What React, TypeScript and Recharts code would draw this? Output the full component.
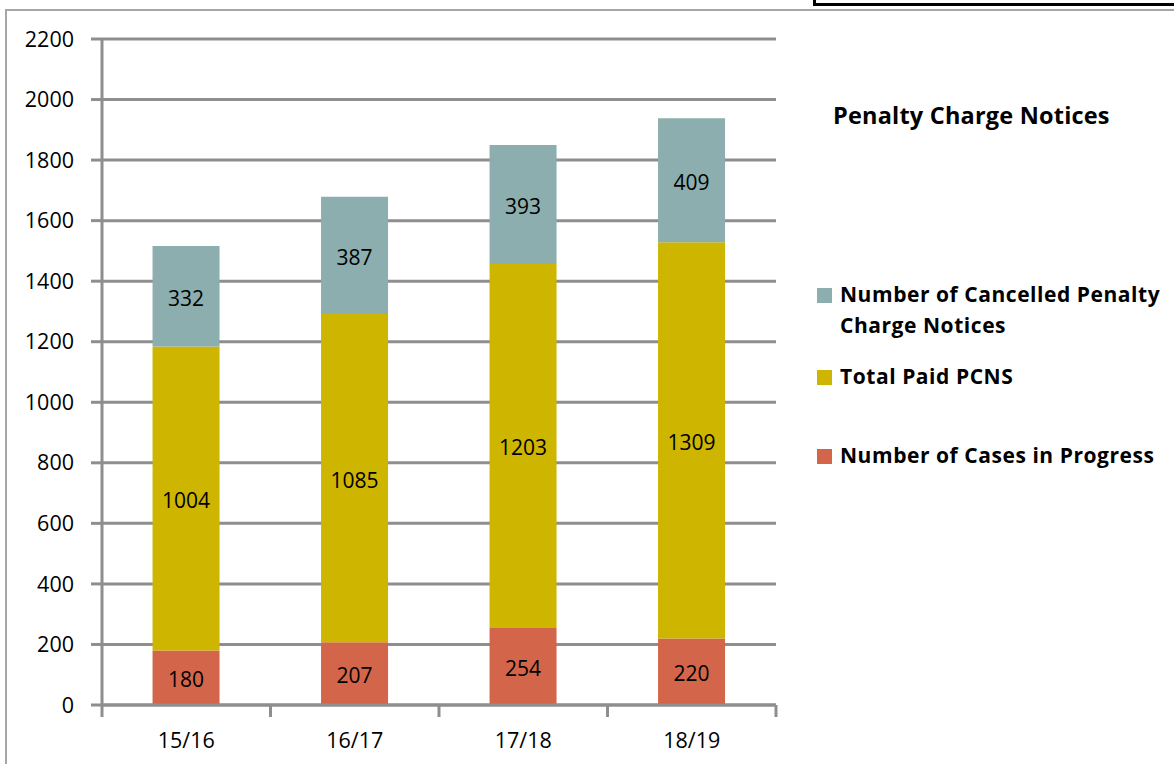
import React from 'react';
import { BarChart, Bar, XAxis, YAxis, CartesianGrid, LabelList } from 'recharts';

const categories = ['15/16', '16/17', '17/18', '18/19'];
const casesInProgress = [180, 207, 254, 220];
const totalPaid = [1004, 1085, 1203, 1309];
const cancelled = [332, 387, 393, 409];
const yTicks = [0, 200, 400, 600, 800, 1000, 1200, 1400, 1600, 1800, 2000, 2200];
const chartTitle = 'Penalty Charge Notices';

const series = [
  { key: 'cases', name: 'Number of Cases in Progress', color: '#D3654B' },
  { key: 'paid', name: 'Total Paid PCNS', color: '#CEB500' },
  { key: 'cancelled', name: 'Number of Cancelled Penalty Charge Notices', color: '#8CAEAE' },
];

const data = categories.map((c, i) => ({
  category: c,
  cases: casesInProgress[i],
  paid: totalPaid[i],
  cancelled: cancelled[i],
}));

const W = 1174;
const H = 764;
const PLOT_LEFT = 102;
const PLOT_RIGHT = 776;
const PLOT_TOP = 39;
const PLOT_BOTTOM = 705;
const BAND = (PLOT_RIGHT - PLOT_LEFT) / categories.length;
const GRID = '#8E8E8E';
const FONT = '"Open Sans", sans-serif';
const BOLD_FONT = '"Open Sans", sans-serif';

const XTick = (props: any) => {
  const { x, payload, index } = props;
  const half = BAND / 2;
  return (
    <g>
      <line x1={x - half} x2={x - half} y1={PLOT_BOTTOM} y2={PLOT_BOTTOM + 12} stroke={GRID} strokeWidth={3} />
      {index === categories.length - 1 && (
        <line x1={x + half} x2={x + half} y1={PLOT_BOTTOM} y2={PLOT_BOTTOM + 12} stroke={GRID} strokeWidth={3} />
      )}
      <text x={x} y={PLOT_BOTTOM + 43} textAnchor="middle" fontFamily={FONT} fontSize={21.5} fill="#000">
        {payload.value}
      </text>
    </g>
  );
};

const legendTops: Record<string, number> = { cancelled: 279, paid: 361, cases: 440 };

export default function App() {
  const legendItems = [...series].reverse();
  return (
    <div style={{ position: 'absolute', left: 0, top: 0, width: W, height: H, background: '#fff', overflow: 'hidden' }}>
      <div style={{ position: 'absolute', left: 5, top: 9, width: W, height: 2, background: '#A6A6A6' }} />
      <div style={{ position: 'absolute', left: 5, top: 9, width: 2, height: H, background: '#A6A6A6' }} />
      <div style={{ position: 'absolute', left: 813, top: -4, width: 400, height: 7, borderLeft: '3px solid #000', borderBottom: '3px solid #000' }} />
      <div style={{ position: 'absolute', left: 0, top: 0 }}>
        <BarChart
          width={W}
          height={H}
          data={data}
          margin={{ top: PLOT_TOP, right: W - PLOT_RIGHT, bottom: 0, left: 0 }}
          barCategoryGap="30%"
        >
          <CartesianGrid vertical={false} stroke={GRID} strokeWidth={3} />
          <XAxis
            dataKey="category"
            height={H - PLOT_BOTTOM}
            axisLine={{ stroke: GRID, strokeWidth: 3 }}
            tickLine={false}
            tick={<XTick />}
            interval={0}
          />
          <YAxis
            width={PLOT_LEFT}
            domain={[0, 2200]}
            ticks={yTicks}
            interval={0}
            axisLine={{ stroke: GRID, strokeWidth: 3 }}
            tickLine={{ stroke: GRID, strokeWidth: 3 }}
            tickSize={11}
            tickMargin={17}
            tick={{ fontFamily: FONT, fontSize: 21.5, fill: '#000' }}
          />
          {series.map((s) => (
            <Bar key={s.key} dataKey={s.key} name={s.name} stackId="a" fill={s.color} isAnimationActive={false}>
              <LabelList dataKey={s.key} position="center" fill="#000" fontFamily={FONT} fontSize={21} dy={2} />
            </Bar>
          ))}
        </BarChart>
      </div>
      <div style={{ position: 'absolute', left: 833, top: 99, fontFamily: BOLD_FONT, fontWeight: 700, fontSize: 23.5, color: '#000', whiteSpace: 'nowrap', letterSpacing: 0.2 }}>
        {chartTitle}
      </div>
      <div style={{ position: 'absolute', left: 817, top: 0, width: 357, height: H, fontFamily: BOLD_FONT, fontWeight: 700, fontSize: 21, letterSpacing: 0.55, color: '#000' }}>
        {legendItems.map((it) => (
          <div key={it.key} style={{ position: 'absolute', left: 0, top: legendTops[it.key], display: 'flex', alignItems: 'flex-start' }}>
            <div style={{ width: 15, height: 15, background: it.color, marginTop: 9, marginRight: 8, flex: 'none' }} />
            <div style={{ width: 334, lineHeight: '31px' }}>{it.name}</div>
          </div>
        ))}
      </div>
    </div>
  );
}
